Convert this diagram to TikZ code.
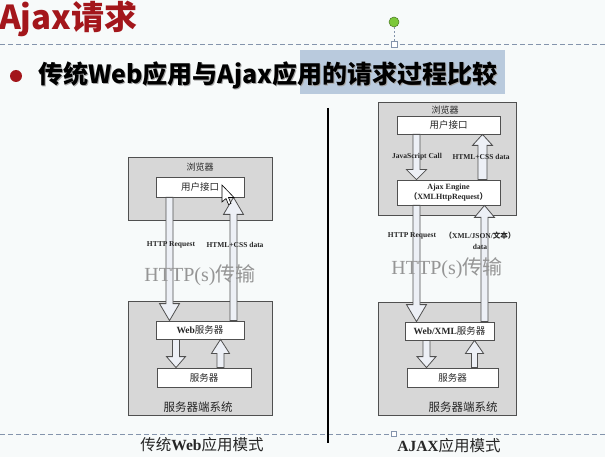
\documentclass[tikz,border=0pt]{standalone}
\usepackage{fontspec}
\setmainfont{Liberation Serif}
\newfontfamily\cjk{Noto Sans CJK SC}
\usetikzlibrary{calc}
\definecolor{bg}{HTML}{F7FAFA}
\definecolor{titlered}{HTML}{A3161B}
\definecolor{dashc}{HTML}{8494AC}
\definecolor{hilite}{HTML}{B9CADD}
\definecolor{boxgray}{HTML}{D7D7D7}
\definecolor{boxline}{HTML}{505050}
\definecolor{arrfill}{HTML}{EDF0F6}
\definecolor{bigtxt}{HTML}{959595}
\definecolor{handle}{HTML}{7CC83A}
% block arrow down: x, top node, bottom node, shaft half width, head half width, head length
\newcommand\blkdn[6]{%
  \draw[blk] let \p1=(#2.south), \p2=(#3.north) in
    ({#1pt-#4pt},\y1) -- ({#1pt-#4pt},{\y2+#6pt}) -- ({#1pt-#5pt},{\y2+#6pt}) -- (#1pt,\y2)
    -- ({#1pt+#5pt},{\y2+#6pt}) -- ({#1pt+#4pt},{\y2+#6pt}) -- ({#1pt+#4pt},\y1) -- cycle;}
% block arrow up: x, top node, bottom node, shaft half width, head half width, head length
\newcommand\blkup[6]{%
  \draw[blk] let \p1=(#2.south), \p2=(#3.north) in
    ({#1pt-#4pt},\y2) -- ({#1pt-#4pt},{\y1-#6pt}) -- ({#1pt-#5pt},{\y1-#6pt}) -- (#1pt,\y1)
    -- ({#1pt+#5pt},{\y1-#6pt}) -- ({#1pt+#4pt},{\y1-#6pt}) -- ({#1pt+#4pt},\y2) -- cycle;}
\begin{document}
\begin{tikzpicture}[x=1pt,y=-1pt,
  graybox/.style={draw=boxline, fill=boxgray, line width=0.8pt, inner sep=0pt},
  wbox/.style={draw=boxline, fill=white, line width=0.8pt, inner sep=0pt, text=black!85,
    font=\fontsize{9.5}{11}\selectfont},
  blk/.style={draw=boxline, fill=arrfill, line width=0.8pt, line join=miter},
  lbl/.style={inner sep=0pt, text=black!85, font=\fontsize{7.5}{9}\selectfont\bfseries},
  big/.style={inner sep=0pt, text=bigtxt, font=\fontsize{20}{22}\selectfont},
  syscap/.style={inner sep=0pt, text=black!85, font=\fontsize{11.5}{13}\selectfont},
  modecap/.style={inner sep=0pt, text=black!85, font=\fontsize{15.5}{17}\selectfont},
  dashl/.style={draw=dashc, line width=0.8pt, dash pattern=on 5pt off 3pt},
  handlesq/.style={draw=dashc, fill=white, line width=0.6pt, minimum size=6pt, inner sep=0pt}]
\useasboundingbox (0,0) rectangle (605,457);
\fill[bg] (0,0) rectangle (605,457);

% ---- header ----
\node[anchor=base west, inner sep=0pt, text=titlered, font=\fontsize{33}{33}\selectfont\cjk\bfseries] (title) at (-1,30) {Ajax请求};
\draw[dashl] (0,44) -- (605,44);
\node[circle, fill=handle, draw=handle!60!black, line width=0.5pt, minimum size=10pt, inner sep=0pt] (rot) at (394,22) {};
\node[handlesq] (sqtop) at (394,44) {};
\draw[dashc, line width=0.6pt, dash pattern=on 2pt off 2pt] (rot) -- (sqtop);
\fill[hilite] (300,50) rectangle (505,94);
\node[circle, fill=titlered, minimum size=12pt, inner sep=0pt] (bullet) at (16,76) {};
\node[anchor=base west, inner sep=0pt, text=black!35, font=\fontsize{25}{25}\selectfont\cjk\bfseries] (subsh) at (38.8,84.8) {传统Web应用与Ajax应用的请求过程比较};
\node[anchor=base west, inner sep=0pt, text=black, font=\fontsize{25}{25}\selectfont\cjk\bfseries] (sub) at (38,84) {传统Web应用与Ajax应用的请求过程比较};

% ---- separators ----
\draw[dashl] (0,434) -- (605,434);
\node[handlesq, minimum size=5pt] (sqbot) at (394,434) {};
\coordinate (sepT) at (328,108);
\coordinate (sepB) at (328,443);
\draw[black, line width=2.4pt] (sepT) -- (sepB);

% ---- left diagram ----
\node[graybox, minimum width=144pt, minimum height=63pt] (lbr) at (200,188.5) {};
\node[graybox, minimum width=144pt, minimum height=114pt] (lsr) at (200,358) {};
\node[lbl, font=\fontsize{9}{10}\selectfont\cjk] (lbrt) at (200,167) {浏览器};
\node[wbox, minimum width=88pt, minimum height=20pt] (lui) at (200,187) {\cjk 用户接口};
\node[wbox, minimum width=88pt, minimum height=18pt] (lws) at (200,330) {{\bfseries Web}{\cjk 服务器}};
\node[wbox, minimum width=94pt, minimum height=19pt] (lsv) at (204,377.5) {\cjk 服务器};
\blkdn{169.5}{lui}{lws}{3.5}{10}{17}
\blkup{233.5}{lui}{lws}{3.5}{10}{17}
\blkdn{176}{lws}{lsv}{3.5}{9.5}{11}
\blkup{220.5}{lws}{lsv}{3.5}{9}{14}
\node[lbl] (lreq) at (171,245) {HTTP Request};
\node[lbl] (lresp) at (235,245) {HTML+CSS data};
\node[big] (lhttp) at (200,275) {HTTP(s)\cjk 传输};
\node[syscap] (lsys) at (198,407) {\cjk 服务器端系统};
\node[modecap] (lmode) at (202,445) {{\cjk 传统}{\bfseries Web}{\cjk 应用模式}};
% cursor
\draw[fill=white, draw=black, line width=0.6pt, line join=miter, shift={(222,185)}]
  (0,0) -- (0,17) -- (4,13.5) -- (6.5,19.5) -- (9,18.5) -- (6.5,12.5) -- (12,12.5) -- cycle;

% ---- right diagram ----
\node[graybox, minimum width=138pt, minimum height=113pt] (rbr) at (447,158.5) {};
\node[graybox, minimum width=138pt, minimum height=113pt] (rsr) at (447,358.5) {};
\node[lbl, font=\fontsize{9}{10}\selectfont\cjk] (rbrt) at (445,110) {浏览器};
\node[wbox, minimum width=103pt, minimum height=18pt] (rui) at (448.5,125) {\cjk 用户接口};
\node[wbox, minimum width=103pt, minimum height=25pt, align=center, font=\fontsize{8}{10}\selectfont\bfseries] (rae) at (448.5,192.5) {Ajax Engine\\{\cjk （}XMLHttpRequest{\cjk ）}};
\node[wbox, minimum width=89pt, minimum height=18pt] (rwx) at (449.5,331) {{\bfseries Web/XML}{\cjk 服务器}};
\node[wbox, minimum width=91pt, minimum height=19pt] (rsv) at (452.5,377.5) {\cjk 服务器};
\blkdn{416.5}{rui}{rae}{3.5}{10}{10}
\blkup{482.5}{rui}{rae}{4.5}{10}{11}
\blkdn{416.5}{rae}{rwx}{3.5}{10}{17}
\blkup{484.5}{rae}{rwx}{3.5}{10}{12}
\blkdn{426.5}{rwx}{rsv}{3.5}{9.5}{11}
\blkup{474.5}{rwx}{rsv}{3}{9}{13}
\node[lbl] (rjs) at (417,157) {JavaScript Call};
\node[lbl] (rresp) at (481,157) {HTML+CSS data};
\node[lbl] (rreq) at (412,236) {HTTP Request};
\node[lbl] (rxml) at (480,236) {{\cjk （}XML/JSON/{\cjk 文本）}};
\node[lbl] (rdata) at (480,247) {data};
\node[big] (rhttp) at (447,268) {HTTP(s)\cjk 传输};
\node[syscap] (rsys) at (463,407) {\cjk 服务器端系统};
\node[modecap] (rmode) at (449,446) {{\bfseries AJAX}{\cjk 应用模式}};
\end{tikzpicture}
\end{document}
